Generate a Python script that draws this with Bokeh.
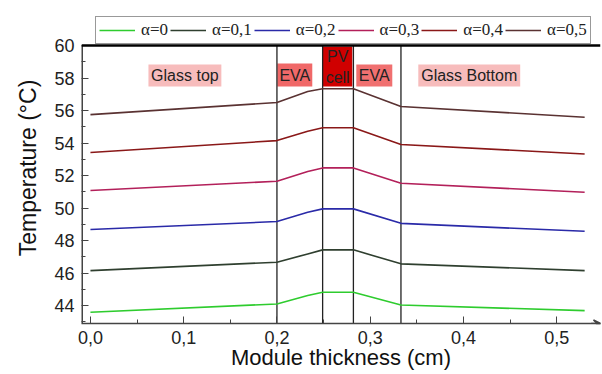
from bokeh.plotting import figure
from bokeh.models import (Range1d, FixedTicker, CustomJSTickFormatter, Span, Label,
                          BoxAnnotation, Legend, LegendItem, Arrow, VeeHead)
from bokeh.embed import file_html
from bokeh.resources import INLINE

# ---- data ----
thickness = [0.0, 0.2, 0.233, 0.249, 0.282, 0.333, 0.53]
series_names = ["α=0", "α=0,1", "α=0,2", "α=0,3", "α=0,4", "α=0,5"]
t_a00 = [43.59, 44.10, 44.62, 44.82, 44.82, 44.04, 43.69]
t_a01 = [46.15, 46.67, 47.18, 47.43, 47.43, 46.57, 46.15]
t_a02 = [48.68, 49.17, 49.74, 49.95, 49.95, 49.06, 48.57]
t_a03 = [51.08, 51.65, 52.25, 52.47, 52.47, 51.53, 50.97]
t_a04 = [53.42, 54.15, 54.73, 54.94, 54.94, 53.91, 53.33]
t_a05 = [55.75, 56.49, 57.17, 57.34, 57.34, 56.25, 55.59]
layer_bounds = [0.2, 0.249, 0.282, 0.333]
x_ticks = [0.0, 0.1, 0.2, 0.3, 0.4, 0.5]
y_ticks = [44, 46, 48, 50, 52, 54, 56, 58, 60]

colors = ["#2ecc2e", "#2f3f2f", "#2a2aa8", "#b3205a", "#8a1818", "#5a3232"]
series = [t_a00, t_a01, t_a02, t_a03, t_a04, t_a05]

X0, X1 = -0.0096, 0.547
Y0, YTOP, Y1 = 42.9, 60.0, 62.03

p = figure(width=602, height=374, output_backend="svg", toolbar_location=None,
           x_range=Range1d(X0, X1), y_range=Range1d(Y0, Y1),
           min_border_left=81, min_border_right=2, min_border_top=12, min_border_bottom=51)
p.grid.visible = False
p.outline_line_color = None
p.background_fill_color = "white"

FONT = "Liberation Sans"
for ax in (p.xaxis[0], p.yaxis[0]):
    ax.major_tick_in = 7
    ax.major_tick_out = 0
    ax.minor_tick_in = 4
    ax.minor_tick_out = 0
    ax.axis_line_color = "#444444"
    ax.axis_line_width = 1.5
    ax.major_tick_line_color = "#444444"
    ax.minor_tick_line_color = "#444444"
    ax.major_label_text_font = FONT
    ax.major_label_text_font_size = "18px"
    ax.major_label_text_color = "#222222"
    ax.axis_label_text_font = FONT
    ax.axis_label_text_font_style = "normal"
    ax.axis_label_text_color = "#111111"

p.xaxis.ticker = FixedTicker(ticks=x_ticks, minor_ticks=[0.05, 0.15, 0.25, 0.35, 0.45])
p.xaxis.formatter = CustomJSTickFormatter(code="return tick.toFixed(1).replace('.', ',');")
p.xaxis.axis_label = "Module thickness (cm)"
p.xaxis.axis_label_text_font_size = "22px"
p.xaxis.major_label_standoff = 7
p.xaxis.axis_label_standoff = -2

p.yaxis.ticker = FixedTicker(ticks=y_ticks, minor_ticks=[43, 45, 47, 49, 51, 53, 55, 57, 59])
p.yaxis.axis_label = "Temperature (°C)"
p.yaxis.axis_label_text_font_size = "23px"
p.yaxis.major_label_standoff = 7
p.yaxis.axis_label_standoff = 10
p.yaxis.axis_line_color = None

# y axis line only up to the top border of the plot area
p.segment(x0=[X0], y0=[Y0], x1=[X0], y1=[YTOP], line_color="#444444", line_width=3)

# top border
p.add_layout(Span(location=YTOP, dimension="width", line_color="black", line_width=2.5))

# arrow at the end of the x axis
p.add_layout(Arrow(end=VeeHead(size=7, line_color="#444444", line_width=1.5, fill_color=None),
                   x_start=X1 - 0.01, y_start=Y0, x_end=X1, y_end=Y0,
                   line_color="#444444", line_width=1.5))

# annotation boxes
box_specs = [
    (0.0622, 0.1404, 57.48, 58.83, "#f7bcbc"),
    (0.2004, 0.2379, 57.48, 58.89, "#f06868"),
    (0.2487, 0.2808, 57.48, 59.94, "#d00000"),
    (0.2851, 0.3237, 57.48, 58.83, "#f07070"),
    (0.3516, 0.4609, 57.48, 58.83, "#f7bcbc"),
]
for l, r, b, t, c in box_specs:
    p.add_layout(BoxAnnotation(left=l, right=r, bottom=b, top=t, fill_color=c,
                               fill_alpha=1.0, line_color=None, level="underlay"))

label_specs = [
    (0.1013, 58.15, "Glass top"),
    (0.2192, 58.15, "EVA"),
    (0.2651, 59.3, "PV"),
    (0.2651, 58.05, "cell"),
    (0.3044, 58.15, "EVA"),
    (0.4062, 58.15, "Glass Bottom"),
]
for x, y, txt in label_specs:
    p.add_layout(Label(x=x, y=y, text=txt, text_align="center", text_baseline="middle",
                       text_font=FONT, text_font_size="16px", text_color="#222222"))

# layer boundaries (from bottom axis up to the top border)
for xb in layer_bounds:
    p.segment(x0=[xb], y0=[Y0], x1=[xb], y1=[YTOP], line_color="#222222", line_width=1.3)

# lines
items = []
for name, ys, c in zip(series_names, series, colors):
    r = p.line(thickness, ys, line_color=c, line_width=1.6)
    items.append(LegendItem(label=name, renderers=[r]))

legend = Legend(items=items, orientation="horizontal", location=(14, 279),
                glyph_width=36, glyph_height=16, label_standoff=6, spacing=2,
                padding=3, margin=0, border_line_color="#333333", border_line_width=1.2,
                background_fill_color="white", background_fill_alpha=1.0,
                label_text_font="Liberation Serif", label_text_font_size="17px",
                label_text_color="#222222")
p.add_layout(legend, "center")

open("out.html", "w").write(file_html(p, INLINE))
